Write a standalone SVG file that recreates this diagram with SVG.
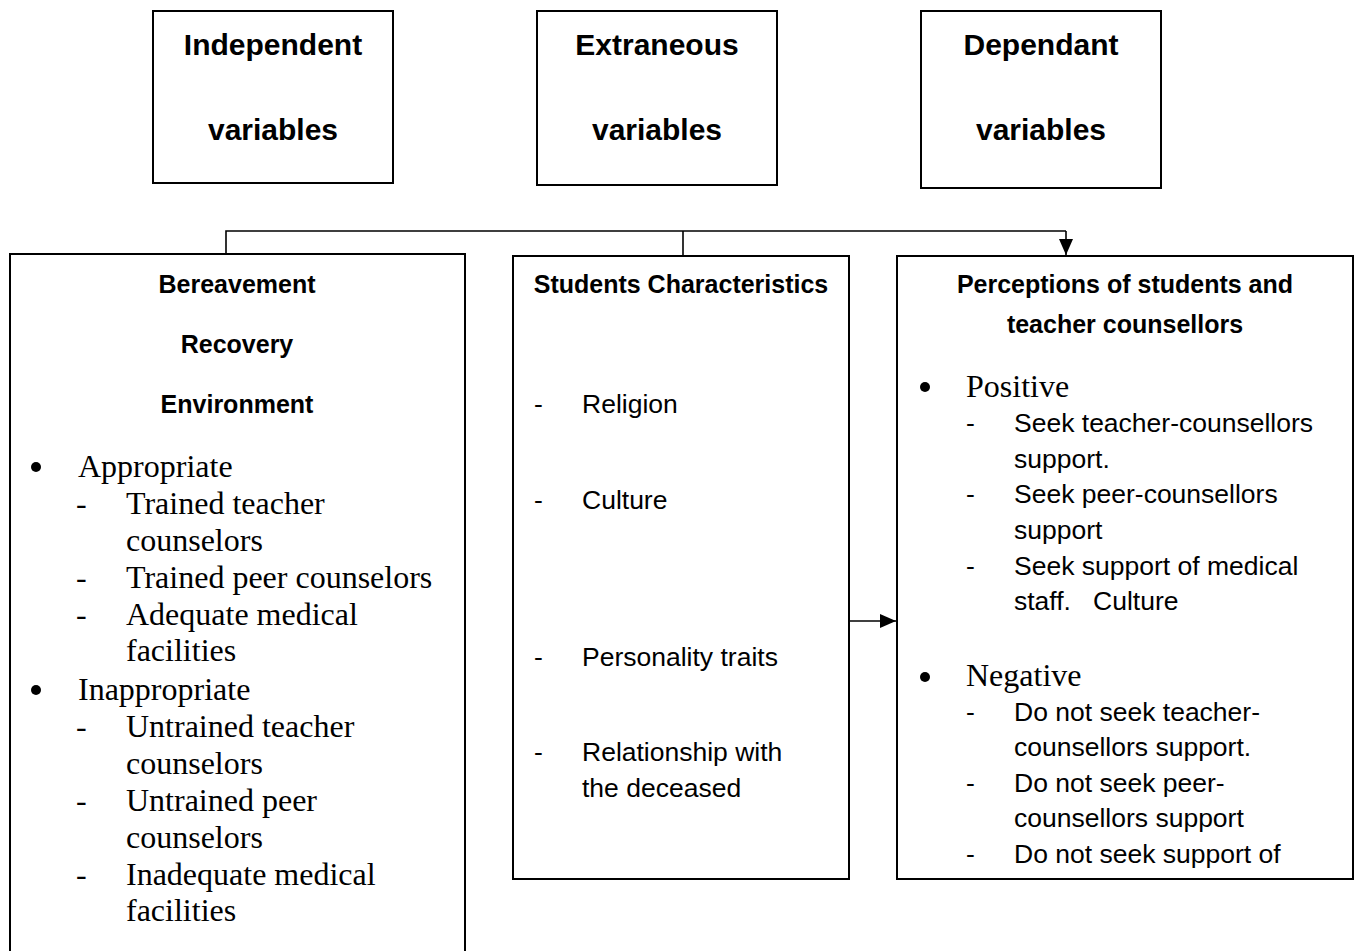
<svg xmlns="http://www.w3.org/2000/svg" width="1357" height="951" viewBox="0 0 1357 951">
<style>
.box{fill:#fff;stroke:#000;stroke-width:2}
.title{font-family:"Liberation Sans",Arial,sans-serif;font-weight:bold;font-size:30px;text-anchor:middle}
.head{font-family:"Liberation Sans",Arial,sans-serif;font-weight:bold;font-size:25px;text-anchor:middle}
.cal{font-family:"Liberation Sans",Arial,sans-serif;font-size:26.5px}
.tnr{font-family:"Liberation Serif","Times New Roman",serif;font-size:32px}
.conn{fill:none;stroke:#000;stroke-width:1.6}
.dot{fill:#000}
</style>
<defs>
<marker id="arr" viewBox="0 0 16 14" refX="16" refY="7" markerWidth="16" markerHeight="14" orient="auto" markerUnits="userSpaceOnUse">
<path d="M0,0 L16,7 L0,14 Z" fill="#000"/>
</marker>
</defs>
<rect width="1357" height="951" fill="#fff"/>

<g id="independent">
<rect class="box" x="153" y="11" width="240" height="172"/>
<text class="title" x="273" y="55">Independent</text>
<text class="title" x="273" y="140">variables</text>
</g>
<g id="extraneous">
<rect class="box" x="537" y="11" width="240" height="174"/>
<text class="title" x="657" y="55">Extraneous</text>
<text class="title" x="657" y="140">variables</text>
</g>
<g id="dependant">
<rect class="box" x="921" y="11" width="240" height="177"/>
<text class="title" x="1041" y="55">Dependant</text>
<text class="title" x="1041" y="140">variables</text>
</g>

<g id="connectors">
<path class="conn" d="M226,254 V231 H1066"/>
<path class="conn" d="M683,231 V256"/>
<path class="conn" d="M1066,231 V255" marker-end="url(#arr)"/>
<path class="conn" d="M849,621 H896" marker-end="url(#arr)"/>
</g>

<g id="bereavement">
<rect class="box" x="10" y="254" width="455" height="720"/>
<text class="head" x="237" y="293">Bereavement</text>
<text class="head" x="237" y="353">Recovery</text>
<text class="head" x="237" y="413">Environment</text>
<circle class="dot" cx="36" cy="467" r="5"/>
<circle class="dot" cx="36" cy="690" r="5"/>
<g class="tnr">
<text x="78" y="477">Appropriate</text>
<text x="76" y="514">-</text><text x="126" y="514">Trained teacher</text>
<text x="126" y="551">counselors</text>
<text x="76" y="588">-</text><text x="126" y="588">Trained peer counselors</text>
<text x="76" y="625">-</text><text x="126" y="625">Adequate medical</text>
<text x="126" y="661">facilities</text>
<text x="78" y="700">Inappropriate</text>
<text x="76" y="737">-</text><text x="126" y="737">Untrained teacher</text>
<text x="126" y="774">counselors</text>
<text x="76" y="811">-</text><text x="126" y="811">Untrained peer</text>
<text x="126" y="848">counselors</text>
<text x="76" y="885">-</text><text x="126" y="885">Inadequate medical</text>
<text x="126" y="921">facilities</text>
</g>
</g>

<g id="students">
<rect class="box" x="513" y="256" width="336" height="623"/>
<text class="head" x="681" y="293">Students Characteristics</text>
<g class="cal">
<text x="534" y="413">-</text><text x="582" y="413">Religion</text>
<text x="534" y="509">-</text><text x="582" y="509">Culture</text>
<text x="534" y="666">-</text><text x="582" y="666">Personality traits</text>
<text x="534" y="761">-</text><text x="582" y="761">Relationship with</text>
<text x="582" y="797">the deceased</text>
</g>
</g>

<g id="perceptions">
<rect class="box" x="897" y="256" width="456" height="623"/>
<text class="head" x="1125" y="293">Perceptions of students and</text>
<text class="head" x="1125" y="333">teacher counsellors</text>
<circle class="dot" cx="925" cy="387" r="5"/>
<circle class="dot" cx="925" cy="677" r="5"/>
<g class="tnr">
<text x="966" y="397">Positive</text>
<text x="966" y="686">Negative</text>
</g>
<g class="cal">
<text x="966" y="432">-</text><text x="1014" y="432">Seek teacher-counsellors</text>
<text x="1014" y="468">support.</text>
<text x="966" y="503">-</text><text x="1014" y="503">Seek peer-counsellors</text>
<text x="1014" y="539">support</text>
<text x="966" y="575">-</text><text x="1014" y="575">Seek support of medical</text>
<text x="1014" y="610" xml:space="preserve">staff.   Culture</text>
<text x="966" y="721">-</text><text x="1014" y="721">Do not seek teacher-</text>
<text x="1014" y="756">counsellors support.</text>
<text x="966" y="792">-</text><text x="1014" y="792">Do not seek peer-</text>
<text x="1014" y="827">counsellors support</text>
<text x="966" y="863">-</text><text x="1014" y="863">Do not seek support of</text>
</g>
</g>
</svg>
